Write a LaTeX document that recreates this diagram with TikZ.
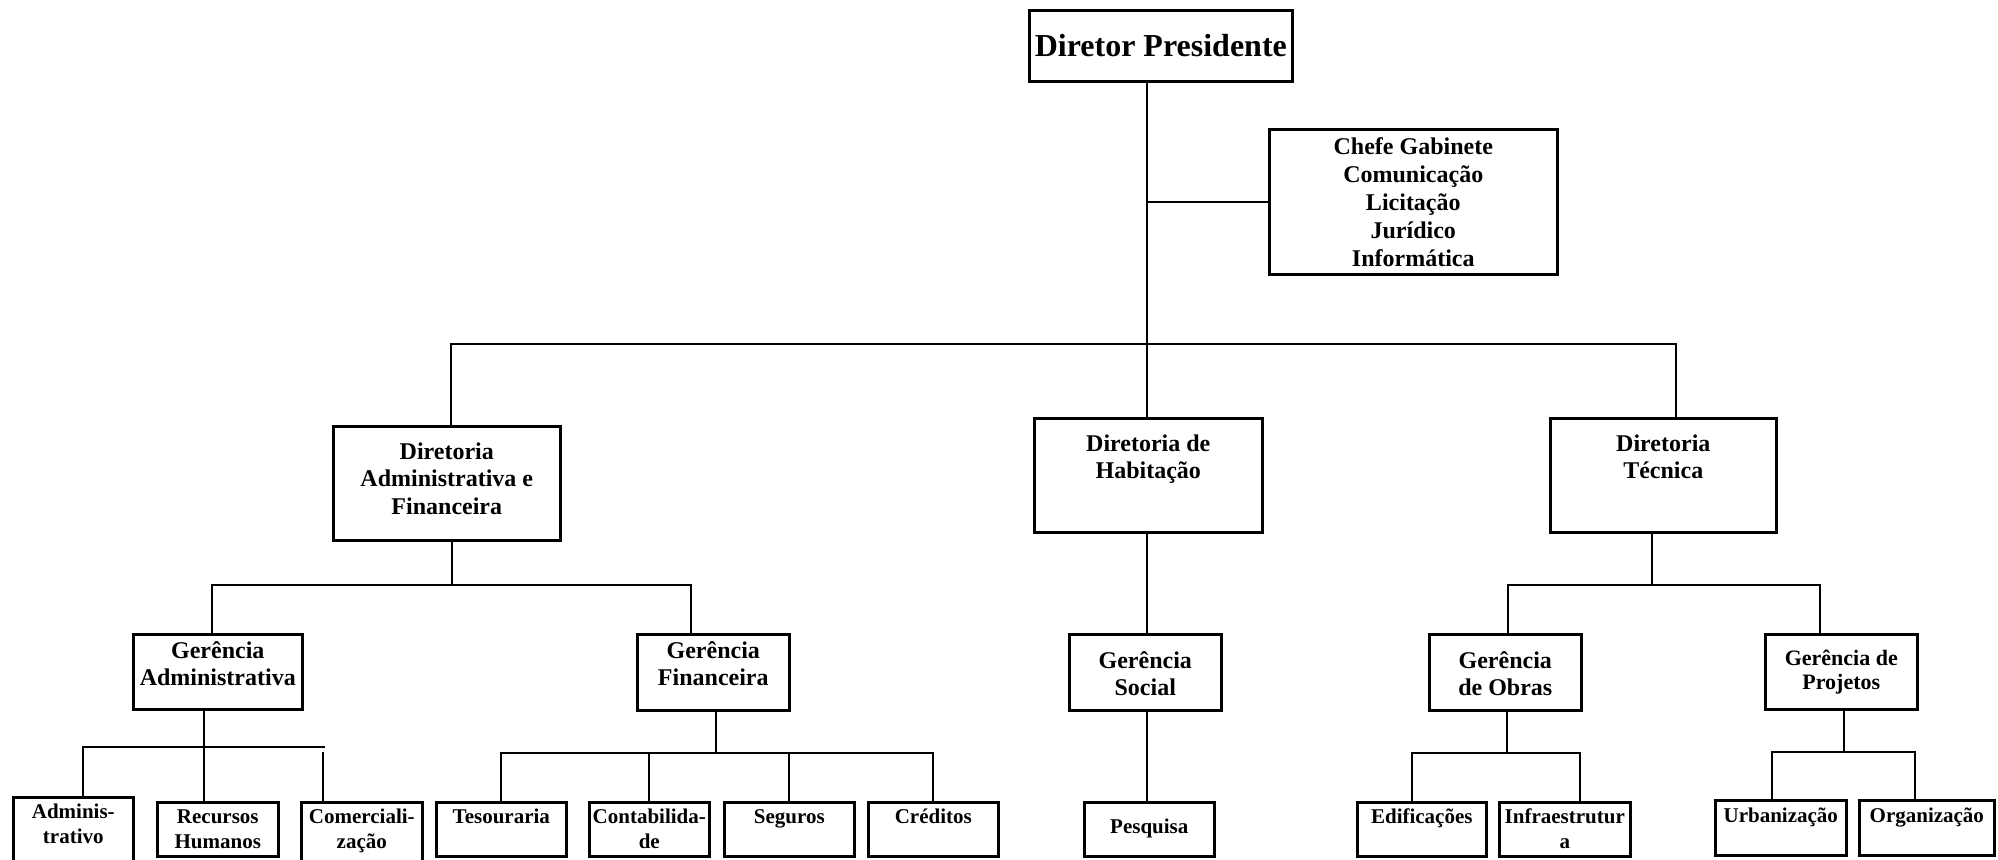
\documentclass[tikz,border=0pt]{standalone}
\usepackage{fontspec}
\setmainfont{Liberation Serif}
\usetikzlibrary{calc}

\newdimen\pxu \pxu=0.5pt
% width, height, first baseline, text
\newcommand{\orgcell}[4]{\parbox[c][#2\pxu][t]{#1\pxu}{\centering\rule{0pt}{#3\pxu}#4\par}}

\tikzset{
    wire/.style={line width=1pt},
    cell/.style={draw, line width=1.3pt, inner sep=0pt, anchor=north west,
        font=\fontsize{12}{13.75}\selectfont\bfseries},
    unit/.style={cell, font=\fontsize{10.5}{12.5}\selectfont\bfseries},
}

\begin{document}
\begin{tikzpicture}[x=0.5pt, y=-0.5pt]
    \useasboundingbox (0,0) rectangle (1998,859);

    % top
    \node[cell, minimum width=131.5pt, minimum height=35.5pt,
        font=\fontsize{16}{19}\selectfont\bfseries] (dp) at (1028,9) {Diretor Presidente};
    \node[cell, align=center, minimum width=144pt, minimum height=72.5pt,
        font=\fontsize{12}{14}\selectfont\bfseries] (cg) at (1268,128)
        {Chefe Gabinete\\Comunicação\\Licitação\\Jurídico\\Informática};

    % diretorias
    \node[cell] (daf) at (332,425) {\orgcell{227}{114}{33}{Diretoria\\Administrativa e\\Financeira}};
    \node[cell] (hab) at (1033,417) {\orgcell{228}{114}{33}{Diretoria de\\Habitação}};
    \node[cell] (tec) at (1549,417) {\orgcell{226}{114}{33}{Diretoria\\Técnica}};

    % gerencias
    \node[cell] (ga) at (132,633) {\orgcell{169}{75}{24}{Gerência\\Administrativa}};
    \node[cell] (gf) at (636,633) {\orgcell{152}{76}{24}{Gerência\\Financeira}};
    \node[cell] (gs) at (1068,633) {\orgcell{152}{76}{34}{Gerência\\Social}};
    \node[cell] (go) at (1428,633) {\orgcell{152}{76}{34}{Gerência\\de Obras}};
    \node[cell, font=\fontsize{11}{12}\selectfont\bfseries] (gp) at (1764,633)
        {\orgcell{152}{75}{31}{Gerência de\\Projetos}};

    % setores
    \node[unit] (adm) at (12,796) {\orgcell{120}{74}{21}{Adminis-\\trativo}};
    \node[unit] (rh) at (156,801) {\orgcell{121}{54}{21}{Recursos\\Humanos}};
    \node[unit] (com) at (300,801) {\orgcell{121}{69}{21}{Comerciali-\\zação}};
    \node[unit] (tes) at (435,801) {\orgcell{130}{54}{21}{Tesouraria}};
    \node[unit] (cont) at (588,801) {\orgcell{120}{54}{21}{Contabilida-\\de}};
    \node[unit] (seg) at (723,801) {\orgcell{130}{54}{21}{Seguros}};
    \node[unit] (cred) at (867,801) {\orgcell{130}{54}{21}{Créditos}};
    \node[unit] (pesq) at (1083,801) {\orgcell{130}{54}{31}{Pesquisa}};
    \node[unit] (edif) at (1356,801) {\orgcell{129}{54}{21}{Edificações}};
    \node[unit] (infra) at (1498,801) {\orgcell{131}{54}{21}{Infraestrutur\\a}};
    \node[unit] (urb) at (1714,799) {\orgcell{131}{55}{22}{Urbanização}};
    \node[unit] (org) at (1858,799) {\orgcell{135}{55}{22}{Organização}};

    % junctions
    \coordinate (t1) at (1147,344);
    \coordinate (t1l) at (451,344);
    \coordinate (t1r) at (1676,344);
    \coordinate (a1) at (452,585);
    \coordinate (a1l) at (212,585);
    \coordinate (a1r) at (691,585);
    \coordinate (a2) at (204,747);
    \coordinate (a2l) at (83,747);
    \coordinate (a2r) at (325,747);
    \coordinate (a2c) at (323,752);
    \coordinate (a3) at (716,753);
    \coordinate (c1) at (1652,585);
    \coordinate (c1l) at (1508,585);
    \coordinate (c1r) at (1820,585);
    \coordinate (c2) at (1507,753);
    \coordinate (c2l) at (1412,753);
    \coordinate (c2r) at (1580,753);
    \coordinate (c3) at (1844,752);
    \coordinate (c3l) at (1772,752);
    \coordinate (c3r) at (1915,752);

    \draw[wire] (dp.south -| t1) -- (hab.north -| t1);
    \draw[wire] (cg.west -| t1) -- (cg.west);
    \draw[wire] (daf.north -| t1l) -- (t1l) -- (t1r) -- (tec.north -| t1r);

    \draw[wire] (daf.south -| a1) -- (a1);
    \draw[wire] (ga.north -| a1l) -- (a1l) -- (a1r) -- (gf.north -| a1r);
    \draw[wire] (ga.south -| a2) -- (a2) -- (rh.north -| a2);
    \draw[wire] (adm.north -| a2l) -- (a2l) -- (a2r);
    \draw[wire] (a2c) -- (com.north -| a2c);

    \draw[wire] (gf.south -| a3) -- (a3);
    \draw[wire] (tes.north) |- (a3) -| (cred.north);
    \foreach \n in {cont,seg}
        \draw[wire] (\n.north) -- (\n.north |- a3);

    \draw[wire] (hab.south -| t1) -- (gs.north -| t1);
    \draw[wire] (gs.south -| t1) -- (pesq.north -| t1);

    \draw[wire] (tec.south -| c1) -- (c1);
    \draw[wire] (go.north -| c1l) -- (c1l) -- (c1r) -- (gp.north -| c1r);
    \draw[wire] (go.south -| c2) -- (c2);
    \draw[wire] (edif.north -| c2l) -- (c2l) -- (c2r) -- (infra.north -| c2r);
    \draw[wire] (gp.south -| c3) -- (c3);
    \draw[wire] (urb.north -| c3l) -- (c3l) -- (c3r) -- (org.north -| c3r);
\end{tikzpicture}
\end{document}
